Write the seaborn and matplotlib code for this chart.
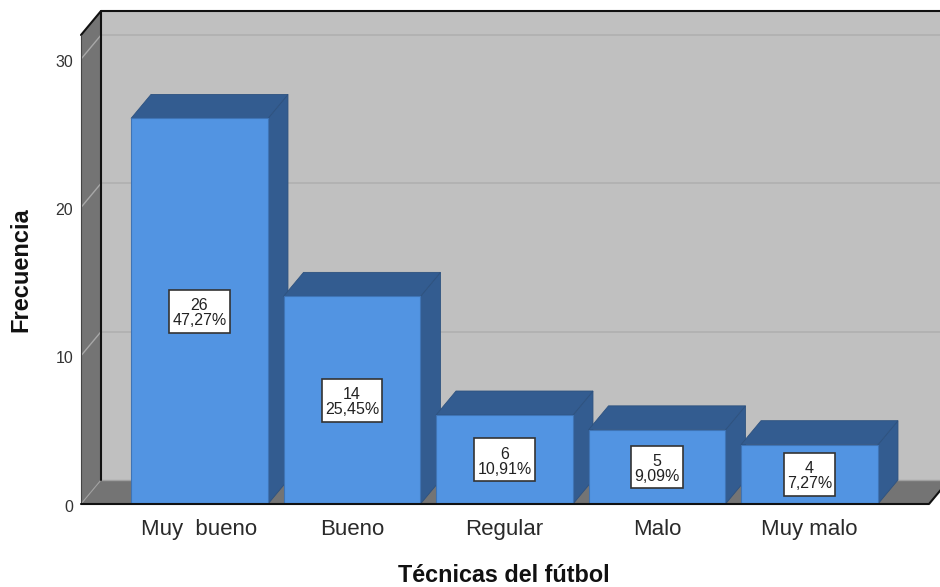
import matplotlib
matplotlib.use("Agg")
import matplotlib.pyplot as plt
import seaborn as sns
import pandas as pd
from matplotlib.patches import Polygon
from matplotlib.path import Path

categories = ["Muy  bueno", "Bueno", "Regular", "Malo", "Muy malo"]
counts = [26, 14, 6, 5, 4]
percents = ["47,27%", "25,45%", "10,91%", "9,09%", "7,27%"]
y_ticks = [0, 10, 20, 30]

FRONT, SHADE = "#5294E2", "#335C90"
WALL, SIDE = "#C0C0C0", "#747474"

sns.set_theme(style="white")
plt.rcParams["font.family"] = ["Liberation Sans", "DejaVu Sans"]

W, H = 940, 587
fig = plt.figure(figsize=(W / 100, H / 100), dpi=100, facecolor="white")
L, R, T, B = 81, 929, 35, 504
ax = fig.add_axes([L / W, 1 - B / H, (R - L) / W, (B - T) / H])
ax.patch.set_alpha(0)

df = pd.DataFrame({"cat": categories, "n": counts})
sns.barplot(data=df, x="cat", y="n", color=FRONT, saturation=1, width=0.898,
            edgecolor="#3F74B5", linewidth=0.8, ax=ax)

pitch, unit = 152.5, 14.83
ax.set_xlim((L - 199.5) / pitch, (R - 199.5) / pitch)
ax.set_ylim(0, (B - T) / unit)
dx, dy = 20 / pitch, 24 / unit
x0, x1 = ax.get_xlim()
y0, y1 = ax.get_ylim()

def poly(pts, fc, z, ec="none", lw=0):
    ax.add_patch(Polygon(pts, closed=True, fc=fc, ec=ec, lw=lw, zorder=z, clip_on=False))

def label_box(x, y, w, h, size):
    px, py = 0.2 * size, 0.4 * size
    a, b, c, d = x - px, y - py + 2, x + w + px, y + h + py + 2
    return Path([(a, b), (c, b), (c, d), (a, d), (a, b)],
                [Path.MOVETO, Path.LINETO, Path.LINETO, Path.LINETO, Path.CLOSEPOLY])

# walls and floor
poly([(x0, y0), (x0 + dx, y0 + dy), (x1 + dx, y0 + dy), (x1 + dx, y1 + dy), (x0 + dx, y1 + dy)], WALL, 0.5)
poly([(x0, y0), (x0 + dx, y0 + dy), (x0 + dx, y1 + dy), (x0, y1)], SIDE, 0.6)
poly([(x0, y0), (x0 + dx, y0 + dy), (x1 + dx, y0 + dy), (x1, y0)], SIDE, 0.6)
for v in y_ticks[1:]:
    ax.plot([x0 + dx, x1 + dx], [v + dy, v + dy], color="#AFAFAF", lw=1.1, zorder=0.7, clip_on=False)
    ax.plot([x0, x0 + dx], [v, v + dy], color="#A8A8A8", lw=1.0, zorder=0.7)
ax.plot([x0 + dx, x1 + dx], [dy, dy], color="#A0A0A0", lw=1.0, zorder=0.7, clip_on=False)
ax.plot([x0, x0 + dx], [0, dy], color="#A0A0A0", lw=0.8, zorder=0.7)
ax.plot([x0 + dx, x0 + dx], [dy, y1 + dy], color="#111111", lw=1.5, zorder=0.8, clip_on=False)
ax.plot([x0, x0 + dx, x1 + dx], [y1, y1 + dy, y1 + dy], color="#111111", lw=1.5, zorder=0.8, clip_on=False)
ax.plot([x0, x0], [0, y1], color="#444444", lw=0.8, zorder=0.8, clip_on=False)
ax.plot([x0, x1, x1 + dx], [0, 0, dy], color="#111111", lw=1.5, zorder=6, clip_on=False)

# 3-D faces and labels derived from the bars
for i, (bar, n, pct) in enumerate(zip(ax.patches, counts, percents)):
    a, b, h = bar.get_x(), bar.get_x() + bar.get_width(), bar.get_height()
    z = 2 + i * 0.2
    bar.set_zorder(z + 0.1)
    poly([(b, 0), (b + dx, dy), (b + dx, h + dy), (b, h)], SHADE, z, "#2E527F", 0.6)
    poly([(a, h), (a + dx, h + dy), (b + dx, h + dy), (b, h)], SHADE, z, "#2E527F", 0.6)
    ax.text((a + b) / 2, h / 2 - 2 / unit, f"{n}\n{pct}", ha="center", va="center", fontsize=11.5,
            color="#222222", linespacing=1.0, zorder=5,
            bbox=dict(boxstyle=label_box, fc="white", ec="#333333", lw=1.2))

ax.set_yticks(y_ticks)
ax.tick_params(axis="y", length=0, pad=5.5, labelsize=11.5, labelcolor="#333333")
for t in ax.get_yticklabels():
    t.set_verticalalignment("center")
    t.set_transform(t.get_transform() + matplotlib.transforms.ScaledTranslation(0, -3 / 100, fig.dpi_scale_trans))
ax.tick_params(axis="x", length=0, pad=10.5, labelsize=16, labelcolor="#2A2A2A")
for s in ax.spines.values():
    s.set_visible(False)
ax.set_xlabel("")
ax.set_ylabel("")
fig.text(503.5 / W, 1 - 575 / H, "Técnicas del fútbol", ha="center", va="center",
         fontsize=16.8, fontweight="bold", color="#111111")
fig.text(21 / W, 1 - 269.5 / H, "Frecuencia", ha="center", va="center", rotation=90,
         fontsize=17, fontweight="bold", color="#111111")
fig.savefig("out.png", dpi=100)
